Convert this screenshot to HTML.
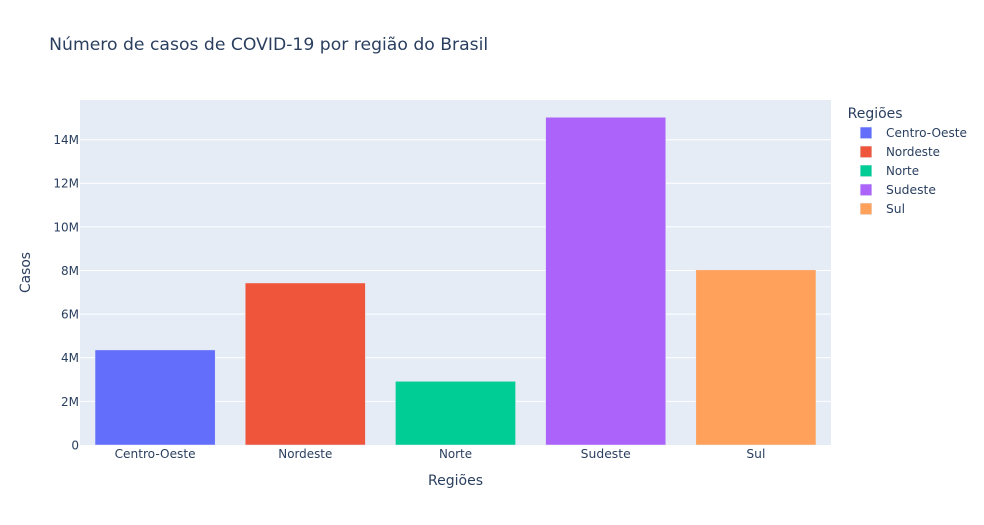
<!DOCTYPE html>
<html lang="pt">
<head>
<meta charset="utf-8">
<title>Número de casos de COVID-19 por região do Brasil</title>
<style>
html,body{margin:0;padding:0;background:#fff;width:984px;height:525px;overflow:hidden}
svg{display:block}
text{font-family:"DejaVu Sans","Liberation Sans",sans-serif;fill:#2a3f5f}
</style>
</head>
<body>
<svg id="chart" xmlns="http://www.w3.org/2000/svg" width="984" height="525" viewBox="0 0 984 525">
<text x="49.2" y="50" font-size="17" textLength="439" lengthAdjust="spacingAndGlyphs">Número de casos de COVID-19 por região do Brasil</text>
<rect x="80" y="100" width="751" height="345" fill="#e5ecf6"/>
<g id="grid"></g>
<g id="bars"></g>
<g id="yticks"></g>
<g id="xticks"></g>
<text x="455.5" y="485" font-size="14" text-anchor="middle" textLength="55" lengthAdjust="spacingAndGlyphs">Regiões</text>
<text transform="translate(30,272.5) rotate(-90)" font-size="14" text-anchor="middle" textLength="41" lengthAdjust="spacingAndGlyphs">Casos</text>
<g id="legend">
<text x="847.6" y="118" font-size="14" textLength="55" lengthAdjust="spacingAndGlyphs">Regiões</text>
</g>
</svg>
<script>
const categories = ["Centro-Oeste", "Nordeste", "Norte", "Sudeste", "Sul"];
const casesMillions = [4.36, 7.43, 2.92, 15.03, 8.03];
const barColors = ["#636efa", "#ef553b", "#00cc96", "#ab63fa", "#ffa15a"];
const yTickValues = [0, 2, 4, 6, 8, 10, 12, 14];
const yTickLabels = ["0", "2M", "4M", "6M", "8M", "10M", "12M", "14M"];
const categoryLabelWidths = [81, 54, 33, 50, 19];

const NS = "http://www.w3.org/2000/svg";
const plot = { left: 80, right: 831, top: 100, bottom: 445 };
const yMax = 15.82;
const barFraction = 0.8;

function yScale(v) {
  return plot.bottom - (v / yMax) * (plot.bottom - plot.top);
}
function bandWidth() {
  return (plot.right - plot.left) / categories.length;
}
function xCenter(i) {
  return plot.left + bandWidth() * (i + 0.5);
}
function make(tag, attrs, parent) {
  const el = document.createElementNS(NS, tag);
  for (const k in attrs) el.setAttribute(k, attrs[k]);
  parent.appendChild(el);
  return el;
}

const gridG = document.getElementById("grid");
const barsG = document.getElementById("bars");
const yG = document.getElementById("yticks");
const xG = document.getElementById("xticks");
const legendG = document.getElementById("legend");

yTickValues.forEach(function (v, i) {
  if (v !== 0) {
    const line = make("line", { x1: plot.left, x2: plot.right, y1: yScale(v), y2: yScale(v), stroke: "#ffffff", "stroke-width": 1 }, gridG);
    
    
  }
  const label = make("text", { x: 79, y: yScale(v) + 4.4, "font-size": 12, "text-anchor": "end" }, yG);
  
  
  label.textContent = yTickLabels[i];
});

categories.forEach(function (name, i) {
  const w = bandWidth() * barFraction;
  const top = yScale(casesMillions[i]);
  const bar = make("rect", {
    x: xCenter(i) - w / 2, y: top, width: w, height: plot.bottom - top,
    fill: barColors[i], stroke: "#e5ecf6", "stroke-width": 0.5
  }, barsG);
  
  

  const label = make("text", {
    x: xCenter(i), y: 458, "font-size": 12, "text-anchor": "middle",
    textLength: categoryLabelWidths[i], lengthAdjust: "spacingAndGlyphs"
  }, xG);
  
  
  label.textContent = name;

  const rowY = 132.8 + i * 19;
  const swatch = make("rect", {
    x: 860.2, y: rowY - 5.75, width: 11.6, height: 11.5,
    fill: barColors[i], stroke: "#e5ecf6", "stroke-width": 0.5
  }, legendG);
  
  

  const text = make("text", {
    x: 886, y: rowY + 4.1, "font-size": 12,
    textLength: categoryLabelWidths[i], lengthAdjust: "spacingAndGlyphs"
  }, legendG);
  
  
  text.textContent = name;
});
</script>
</body>
</html>
